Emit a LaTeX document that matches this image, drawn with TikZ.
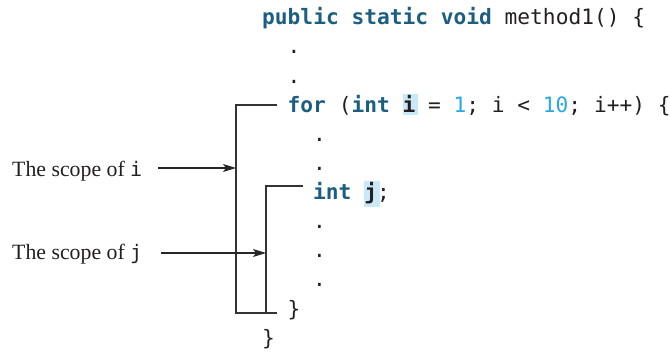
\documentclass[tikz,border=0pt]{standalone}
\usepackage{fontspec}
\setmainfont{Liberation Serif}
\setmonofont{DejaVu Sans Mono}
\usetikzlibrary{arrows.meta}
\definecolor{kwc}{HTML}{1B5E82}
\definecolor{numc}{HTML}{29A9E1}
\definecolor{hlc}{HTML}{C9E9F8}
\definecolor{ink}{HTML}{231F20}
\newcommand{\kwd}[1]{\textcolor{kwc}{\textbf{#1}}}
\newcommand{\nmb}[1]{\textcolor{numc}{#1}}
\begin{document}
\begin{tikzpicture}[x=1pt,y=-1pt,
  code/.style={anchor=base west, inner sep=0pt, font=\ttfamily\fontsize{21.2}{25}\selectfont, text=ink},
  lbl/.style={anchor=base west, inner sep=0pt, font=\fontsize{21.8}{25}\selectfont, text=ink},
  hlbox/.style={fill=hlc, draw=none},
  bracket/.style={line width=1.4pt, draw=black!80},
  arr/.style={line width=1.2pt, draw=black!85, -{Stealth[length=13pt,width=8pt,inset=3pt]}}]
\useasboundingbox (0,0) rectangle (670,352);
% highlights
\fill[hlbox] (402.5,94) rectangle (417.5,115.5);
\fill[hlbox] (363.5,181) rectangle (379.5,207);
% code lines
\node[code] (l1) at (262,25) {\kwd{public} \kwd{static} \kwd{void} method1() \{};
\node[code] (l2) at (287.5,54) {.};
\node[code] (l3) at (287.5,83.5) {.};
\node[code] (l4) at (287.5,113) {\kwd{for} (\kwd{int} \textbf{i} = \nmb{1}; i < \nmb{10}; i++) \{};
\node[code] (l5) at (313,142) {.};
\node[code] (l6) at (313,171) {.};
\node[code] (l7) at (313,200) {\kwd{int} \textbf{j};};
\node[code] (l8) at (313,229) {.};
\node[code] (l9) at (313,258) {.};
\node[code] (l10) at (313,287) {.};
\node[code] (l11) at (287.5,317) {\}};
\node[code] (l12) at (262,346) {\}};
% labels
\node[lbl] (si) at (12,177) {The scope of \texttt{\fontsize{20}{24}\selectfont i}};
\node[lbl] (sj) at (12,260) {The scope of \texttt{\fontsize{20}{24}\selectfont j}};
% brackets
\coordinate (ot) at (277,105);
\coordinate (oc) at (236,313);
\coordinate (it) at (303,186);
\coordinate (ic) at (266,313);
\coordinate (be) at (277,313);
\draw[bracket] (ot) -| (oc) -- (be);
\draw[bracket] (it) -| (ic);
% arrows
\coordinate (ai) at (236,168);
\coordinate (aj) at (266,253);
\draw[arr] ([xshift=16pt]si.east |- ai) -- (ai);
\draw[arr] ([xshift=19pt]sj.east |- aj) -- (aj);
\end{tikzpicture}
\end{document}
